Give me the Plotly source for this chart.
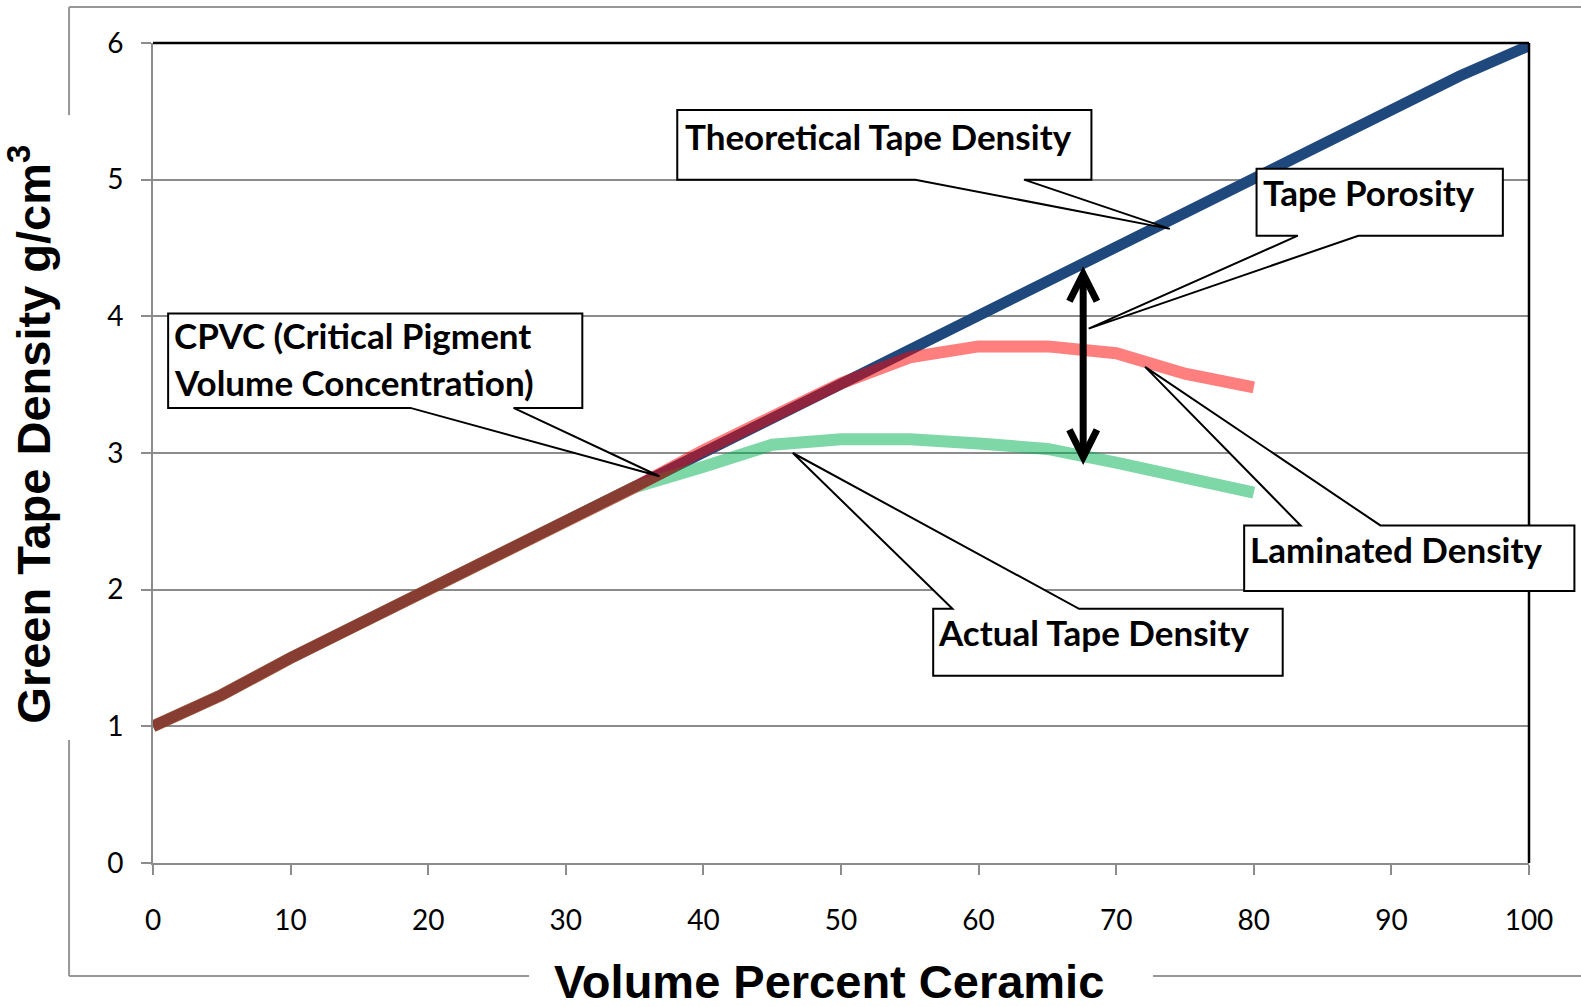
import plotly.graph_objects as go

# ---------------- data ----------------
x_theoretical = [0, 5, 10, 15, 20, 25, 30, 35, 40, 45, 50, 55, 60, 65, 70, 75, 80, 85, 90, 95, 100]
theoretical = [1.0, 1.23, 1.5, 1.75, 1.99, 2.25, 2.5, 2.75, 3.0, 3.25, 3.5, 3.76, 4.0, 4.26, 4.5, 4.74,
               5.0, 5.26, 5.5, 5.76, 5.98]

x_measured = [0, 5, 10, 15, 20, 25, 30, 35, 40, 45, 50, 55, 60, 65, 70, 75, 80]
laminated = [1.0, 1.23, 1.5, 1.75, 1.99, 2.25, 2.5, 2.75, 3.02, 3.27, 3.51, 3.7, 3.78, 3.78, 3.73, 3.58, 3.48]
actual = [1.0, 1.23, 1.5, 1.75, 1.99, 2.25, 2.5, 2.75, 2.9, 3.06, 3.1, 3.1, 3.07, 3.03, 2.93, 2.82, 2.71]

x_tick_values = [0, 10, 20, 30, 40, 50, 60, 70, 80, 90, 100]
y_tick_values = [0, 1, 2, 3, 4, 5, 6]

x_title = "Volume Percent Ceramic"
y_title = "Green Tape Density g/cm<sup>3</sup>"

X_MIN, X_MAX = 0, 100
Y_MIN, Y_MAX = 0, 6

# ---------------- helpers ----------------
def px(x):
    return (x - X_MIN) / (X_MAX - X_MIN)

def py(y):
    return (y - Y_MIN) / (Y_MAX - Y_MIN)

BLUE = "#1F497D"
RED = "#FF0000"
GREEN = "#00B050"
GRID = "#8C8C8C"
FRAME = "#979797"

fig = go.Figure()
fig.add_trace(go.Scatter(x=x_theoretical, y=theoretical, mode="lines", name="Theoretical Tape Density",
                         line=dict(color=BLUE, width=11), hoverinfo="skip"))
fig.add_trace(go.Scatter(x=x_measured, y=actual, mode="lines", name="Actual Tape Density",
                         line=dict(color=GREEN, width=12), opacity=0.5, hoverinfo="skip"))
fig.add_trace(go.Scatter(x=x_measured, y=laminated, mode="lines", name="Laminated Density",
                         line=dict(color=RED, width=12), opacity=0.5, hoverinfo="skip"))

shapes = []

# plot-area top and right borders (black)
shapes.append(dict(type="line", xref="paper", yref="paper", x0=0, x1=1, y0=1, y1=1,
                   line=dict(color="black", width=2.5), layer="above"))
shapes.append(dict(type="line", xref="paper", yref="paper", x0=1, x1=1, y0=0, y1=1,
                   line=dict(color="black", width=2.5), layer="above"))

# outer chart frame (grey), interrupted by the axis titles
FL, FT, FB, FR = -0.061, 1.0439, -0.1378, 1.2
for seg in [(FL, FT, FL, 0.912), (FL, 0.15, FL, FB), (FL, FT, FR, FT),
            (FL, FB, 0.2733, FB), (0.7267, FB, FR, FB)]:
    shapes.append(dict(type="line", xref="paper", yref="paper", x0=seg[0], y0=seg[1], x1=seg[2], y1=seg[3],
                       line=dict(color=FRAME, width=2), layer="below"))


def callout(x0, x1, y0, y1, a, b, tip, side):
    """Box (data coords) with a wedge pointer from edge points a,b to tip."""
    X0, X1, Y0, Y1 = px(x0), px(x1), py(y0), py(y1)
    A, B = px(a), px(b)
    TX, TY = px(tip[0]), py(tip[1])
    if side == "bottom":
        path = (f"M {X0},{Y1} L {X1},{Y1} L {X1},{Y0} L {B},{Y0} L {TX},{TY} "
                f"L {A},{Y0} L {X0},{Y0} Z")
    else:
        path = (f"M {X0},{Y0} L {X0},{Y1} L {A},{Y1} L {TX},{TY} L {B},{Y1} "
                f"L {X1},{Y1} L {X1},{Y0} Z")
    return dict(type="path", xref="paper", yref="paper", path=path, fillcolor="white",
                line=dict(color="black", width=2), layer="above")


shapes.append(callout(38.1, 68.2, 5.0, 5.51, 55.4, 63.3, (73.9, 4.64), "bottom"))   # theoretical
shapes.append(callout(80.2, 98.1, 4.59, 5.08, 83.2, 87.6, (68.0, 3.91), "bottom"))  # porosity
shapes.append(callout(1.1, 31.2, 3.33, 4.02, 18.7, 26.2, (36.8, 2.83), "bottom"))   # CPVC
shapes.append(callout(79.3, 103.3, 1.99, 2.47, 83.4, 89.2, (72.1, 3.63), "top"))    # laminated
shapes.append(callout(56.7, 82.1, 1.37, 1.86, 58.1, 67.3, (46.5, 3.0), "top"))      # actual

# double-headed arrow (tape porosity gap)
AX, AY0, AY1 = 67.6, 2.97, 4.31
arm_dx, arm_dy = 1.0, 0.2
shapes.append(dict(type="line", xref="paper", yref="paper", x0=px(AX), x1=px(AX), y0=py(AY0 + 0.03), y1=py(AY1 - 0.03),
                   line=dict(color="black", width=7), layer="above"))
shapes.append(dict(type="path", xref="paper", yref="paper",
                   path=f"M {px(AX - arm_dx)},{py(AY0 + arm_dy)} L {px(AX)},{py(AY0)} L {px(AX + arm_dx)},{py(AY0 + arm_dy)}",
                   line=dict(color="black", width=7), layer="above"))
shapes.append(dict(type="path", xref="paper", yref="paper",
                   path=f"M {px(AX - arm_dx)},{py(AY1 - arm_dy)} L {px(AX)},{py(AY1)} L {px(AX + arm_dx)},{py(AY1 - arm_dy)}",
                   line=dict(color="black", width=7), layer="above"))

LABEL_FONT = dict(family="Lato", size=35, color="black", weight="bold")
annotations = []
for text, x, y in [("Theoretical Tape Density", 38.5, 5.32),
                   ("Tape Porosity", 80.5, 4.91),
                   ("CPVC (Critical Pigment", 1.4, 3.86),
                   ("Volume Concentration)", 1.4, 3.52),
                   ("Laminated Density", 79.6, 2.30),
                   ("Actual Tape Density", 56.9, 1.69)]:
    annotations.append(dict(text=text, xref="paper", yref="paper", x=px(x), y=py(y), xanchor="left",
                            yanchor="middle", showarrow=False, font=LABEL_FONT))

TITLE_FONT = dict(family="Liberation Sans", size=47, color="black", weight="bold")
annotations.append(dict(text=x_title, xref="paper", yref="paper", x=0.491, y=-0.145, xanchor="center",
                        yanchor="middle", showarrow=False, font=TITLE_FONT))
annotations.append(dict(text=y_title, xref="paper", yref="paper", x=-0.089, y=0.523, xanchor="center",
                        yanchor="middle", showarrow=False, textangle=-90, font=TITLE_FONT))

TICK_FONT = dict(family="Lato", size=28, color="black")
fig.update_layout(
    width=1581, height=1007,
    margin=dict(l=153, r=52, t=43, b=144, pad=0),
    paper_bgcolor="white", plot_bgcolor="white",
    showlegend=False,
    shapes=shapes, annotations=annotations,
    xaxis=dict(range=[X_MIN, X_MAX], tickvals=x_tick_values, ticks="outside", ticklen=10, tickwidth=2,
               tickcolor=GRID, showline=True, linecolor=GRID, linewidth=2, showgrid=False, zeroline=False,
               tickfont=TICK_FONT, ticklabelstandoff=21, fixedrange=True),
    yaxis=dict(range=[Y_MIN, Y_MAX], tickvals=y_tick_values, ticks="outside", ticklen=10, tickwidth=2,
               tickcolor=GRID, showline=True, linecolor=GRID, linewidth=2, showgrid=True, gridcolor=GRID,
               gridwidth=2, zeroline=False, tickfont=TICK_FONT, ticklabelstandoff=12, fixedrange=True),
)

fig.write_html("out.html", config={"displayModeBar": False},
               post_script="document.body.style.margin='0';")
